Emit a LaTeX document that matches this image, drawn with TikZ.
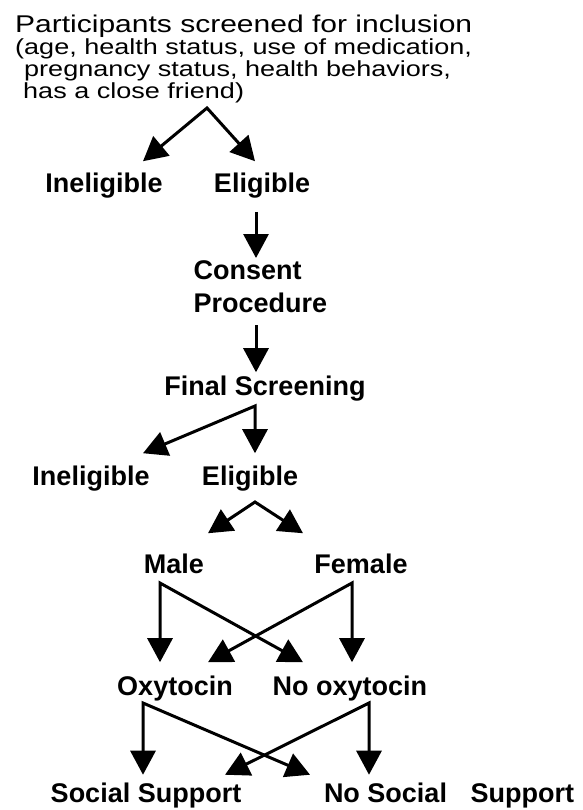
\documentclass[tikz,border=0pt]{standalone}
\usepackage{fontspec}
\setmainfont{Liberation Sans}
\newfontfamily\headfont[FakeStretch=1.24]{Liberation Sans}
\usetikzlibrary{arrows.meta}

\begin{document}
\begin{tikzpicture}[x=1pt, y=1pt,
  lbl/.style = {font=\fontsize{27}{33}\selectfont\bfseries, anchor=base, inner xsep=0pt, inner ysep=12pt},
  arr/.style = {line width=3pt, -{Triangle[length=24pt, width=25pt]}},
  arrs/.style = {line width=3pt, {Triangle[length=24pt, width=25pt]}-{Triangle[length=24pt, width=25pt]}}]

\useasboundingbox (0, 0) rectangle (582, -810);

\node[anchor=north west, align=left, inner sep=0pt, font=\headfont\fontsize{21.8}{22}\selectfont] (head) at (15, -15)
  {{\fontsize{24.2}{22}\selectfont Participants screened for inclusion}\\(age, health status, use of medication,\\\hspace*{9pt}pregnancy status, health behaviors,\\\hspace*{8pt}has a close friend)};

\node[lbl] (inel1) at (104, -193) {Ineligible};
\node[lbl] (elig1) at (262, -193) {Eligible};

\node[lbl, anchor=north west, align=left, inner sep=0pt, inner ysep=2pt] (consent) at (193.5, -258) {Consent\\Procedure};

\node[lbl, inner ysep=3pt] (final) at (265, -395) {Final Screening};

\node[lbl] (inel2) at (91, -485) {Ineligible};
\node[lbl] (elig2) at (250, -485) {Eligible};

\node[lbl, inner ysep=20pt] (male) at (174, -573) {Male};
\node[lbl, inner ysep=20pt] (female) at (361, -573) {Female};

\node[lbl, inner ysep=13pt] (oxy) at (175, -695) {Oxytocin};
\node[lbl, inner ysep=13pt] (nooxy) at (350, -695) {No oxytocin};

\node[lbl, inner ysep=7.5pt] (ss) at (146, -802) {Social Support};
\node[lbl, inner ysep=7.5pt] (nss) at (449, -802) {No Social\hspace{16pt} Support};

\coordinate (s0) at (207, -108);
\coordinate (s1) at (256, -212);
\coordinate (s2) at (256, -325);
\coordinate (s3) at (255, -406);
\coordinate (s4) at (255, -502);
\coordinate (s5) at (160, -583);
\coordinate (s6) at (352, -583);
\coordinate (s7) at (143, -703);
\coordinate (s8) at (369, -703);

\draw[arrs] ([xshift=39pt]inel1.north) -- (s0) -- ([xshift=-7pt]elig1.north);
\draw[arr] (s1) -- (s1 |- consent.north);
\draw[arr] (s2) -- (s2 |- final.north);
\draw[arrs] ([xshift=52pt]inel2.north) -- (s3) -- (s3 |- elig2.north);
\draw[arrs] ([xshift=34pt]male.north) -- (s4) -- ([xshift=-58pt]female.north);

\draw[arrs] (s5 |- oxy.north) -- (s5) -- ([xshift=-47pt]nooxy.north);
\draw[arrs] ([xshift=33pt]oxy.north) -- (s6) -- (s6 |- nooxy.north);

\draw[arrs] (s7 |- ss.north) -- (s7) -- ([xshift=-139pt]nss.north);
\draw[arrs] ([xshift=79pt]ss.north) -- (s8) -- (s8 |- nss.north);

\end{tikzpicture}
\end{document}
